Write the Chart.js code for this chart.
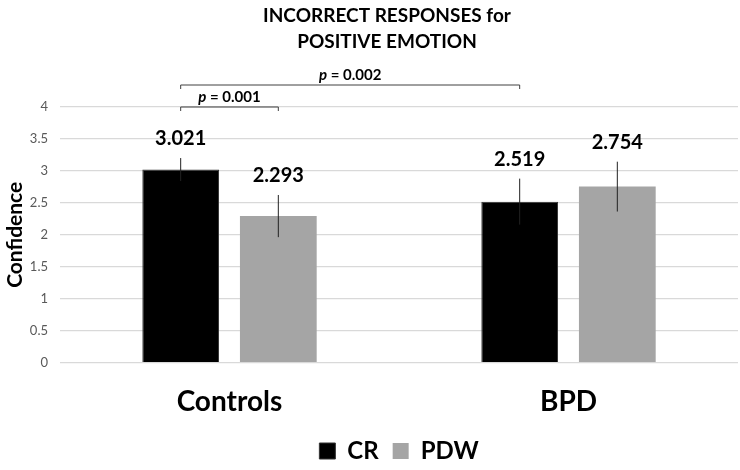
<!DOCTYPE html>
<html>
<head>
<meta charset="utf-8">
<script src="https://cdn.jsdelivr.net/npm/chart.js@4.4.1/dist/chart.umd.min.js"></script>
<style>
  html, body { margin: 0; padding: 0; background: #fff; }
</style>
</head>
<body>
<canvas id="confChart" width="740" height="470"></canvas>
<script>
const groups = ['Controls', 'BPD'];
const crMeans = [3.021, 2.519];
const pdwMeans = [2.293, 2.754];
const crErrors = [0.18, 0.36];
const pdwErrors = [0.33, 0.39];
const titleLines = ['INCORRECT RESPONSES for', 'POSITIVE EMOTION'];
// comparisons: [dataset, index] to [dataset, index], p value
const comparisons = [
    { from: [0, 0], to: [1, 0], p: '0.001', lift: 0 },
    { from: [0, 0], to: [0, 1], p: '0.002', lift: 22 }
];

const FONT = 'Lato, "Open Sans", sans-serif';

// error bars, value labels, significance brackets and title
const extrasPlugin = {
    id: 'extras',
    afterDatasetsDraw(chart) {
        const ctx = chart.ctx;
        const y = chart.scales.y;
        const area = chart.chartArea;
        const errs = [crErrors, pdwErrors];
        ctx.save();
        chart.data.datasets.forEach((ds, di) => {
            const meta = chart.getDatasetMeta(di);
            meta.data.forEach((bar, i) => {
                const v = ds.data[i];
                const e = errs[di][i];
                const top = y.getPixelForValue(v + e);
                const bot = y.getPixelForValue(v - e);
                ctx.strokeStyle = '#222222';
                ctx.lineWidth = 1;
                ctx.beginPath();
                ctx.moveTo(bar.x, top);
                ctx.lineTo(bar.x, bot);
                ctx.stroke();
                // value label
                ctx.fillStyle = '#000';
                ctx.font = 'bold 20px ' + FONT;
                ctx.textAlign = 'center';
                ctx.textBaseline = 'alphabetic';
                ctx.fillText(v.toFixed(3), bar.x, top - 13);
            });
        });

        // brackets
        comparisons.forEach(c => {
            const a = chart.getDatasetMeta(c.from[0]).data[c.from[1]];
            const b = chart.getDatasetMeta(c.to[0]).data[c.to[1]];
            const by = area.top - c.lift;
            ctx.strokeStyle = '#404040';
            ctx.lineWidth = 1;
            ctx.beginPath();
            ctx.moveTo(a.x, by + 4);
            ctx.lineTo(a.x, by);
            ctx.lineTo(b.x, by);
            ctx.lineTo(b.x, by + 4);
            ctx.stroke();
            const pPart = 'p';
            const rest = ' = ' + c.p;
            ctx.font = 'italic bold 15px ' + FONT;
            const w1 = ctx.measureText(pPart).width;
            ctx.font = 'bold 15px ' + FONT;
            const w2 = ctx.measureText(rest).width;
            const sx = (a.x + b.x) / 2 - (w1 + w2) / 2;
            ctx.textAlign = 'left';
            ctx.textBaseline = 'alphabetic';
            ctx.fillStyle = '#000';
            ctx.font = 'italic bold 15px ' + FONT;
            ctx.fillText(pPart, sx, by - 5);
            ctx.font = 'bold 15px ' + FONT;
            ctx.fillText(rest, sx + w1, by - 5);
        });

        // title
        ctx.fillStyle = '#000';
        ctx.font = 'bold 19px ' + FONT;
        ctx.textAlign = 'center';
        ctx.textBaseline = 'middle';
        titleLines.forEach((t, i) => ctx.fillText(t, 387, 16 + i * 26));
        ctx.restore();
    }
};

new Chart(document.getElementById('confChart'), {
    type: 'bar',
    data: {
        labels: groups,
        datasets: [{
            label: 'CR',
            data: crMeans,
            backgroundColor: '#000000',
            borderColor: '#333333',
            borderWidth: 1
        }, {
            label: 'PDW',
            data: pdwMeans,
            backgroundColor: '#a5a5a5',
            borderWidth: 0
        }]
    },
    options: {
        responsive: false,
        animation: false,
        devicePixelRatio: 1,
        categoryPercentage: 0.576,
        barPercentage: 0.786,
        layout: {
            padding: { top: 107, left: 3, right: 2, bottom: -3 }
        },
        scales: {
            x: {
                grid: { display: false, tickLength: 16 },
                border: { display: false },
                ticks: {
                    color: '#000',
                    padding: 12,
                    font: { family: FONT, size: 28, weight: 'bold', lineHeight: 0.8 }
                }
            },
            y: {
                min: 0,
                max: 4,
                border: { display: false },
                grid: { color: '#d9d9d9', lineWidth: 1.3, drawTicks: false },
                afterFit: (scale) => { scale.width = 57; },
                ticks: {
                    stepSize: 0.5,
                    color: '#595959',
                    padding: 12,
                    font: { family: FONT, size: 13 },
                    callback: (v) => String(v)
                },
                title: {
                    display: true,
                    text: 'Confidence',
                    color: '#000',
                    padding: { top: 0, bottom: 2 },
                    font: { family: FONT, size: 21, weight: 'bold' }
                }
            }
        },
        plugins: {
            title: { display: false },
            tooltip: { enabled: false },
            legend: {
                position: 'bottom',
                fullSize: false,
                labels: {
                    color: '#000',
                    boxWidth: 16,
                    boxHeight: 16,
                    padding: 14,
                    font: { family: FONT, size: 24, weight: 'bold' }
                }
            }
        }
    },
    plugins: [extrasPlugin]
});
</script>
</body>
</html>
